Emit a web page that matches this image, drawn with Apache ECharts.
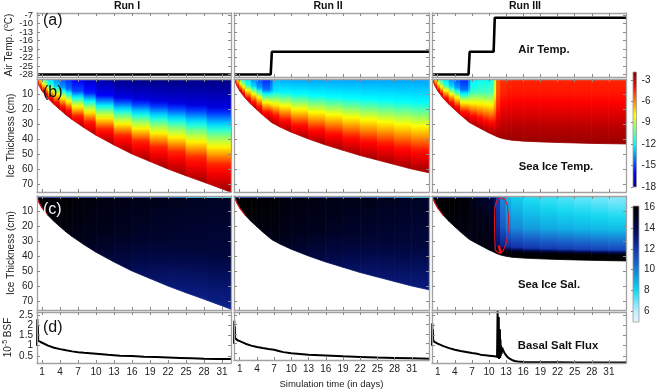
<!DOCTYPE html>
<html><head><meta charset="utf-8">
<script src="https://cdn.jsdelivr.net/npm/echarts@6/dist/echarts.min.js"></script>
<style>html,body{margin:0;padding:0;background:#fff}#c{width:659px;height:390px}</style>
</head><body><div id="c"></div><script>
// ---------------- DATA ----------------
const runTitles = ['Run I', 'Run II', 'Run III'];
const xTicks = [1,4,7,10,13,16,19,22,25,28,31];
const airTicks = [-28,-25,-22,-19,-16,-13,-10,-7];
const iceTicks = [10,20,30,40,50,60,70];
const bsfTicks = [0.5,1,1.5,2,2.5];
const tempBarTicks = [-18,-15,-12,-9,-6,-3];
const salBarTicks = [6,8,10,12,14,16];

// (a) air temperature
const airDays1 = [0.15, 32.5];            const airTemp1 = [-28, -28];
const airDays2 = [0, 6.4, 6.6, 34];       const airTemp2 = [-28, -28, -20, -20];
const airDays3 = [0, 6.4, 6.6, 10.8, 11, 34]; const airTemp3 = [-28, -28, -20, -20, -8, -8];

// ice thickness (cm)
const days1  = [0.15, 0.5, 1, 1.5, 2, 3, 4, 5, 6, 8, 10, 13, 16, 19, 22, 25, 28.5, 32.5];
const thick1 = [1.5, 4.5, 8, 10.5, 13, 17, 20.5, 24, 27, 32.5, 37.5, 44, 50, 55, 60, 64.5, 69.5, 75.5];
const days2  = [0, 0.5, 1, 1.5, 2, 3, 4, 5, 6.4, 6.8, 8, 10, 13, 16, 19, 22, 25, 28, 31, 34];
const thick2 = [0, 4.5, 8, 10.5, 13, 17, 20.5, 24, 28.5, 29.5, 32, 35.5, 40, 44, 47.5, 51, 54, 57, 60, 62.5];
const days3  = [0, 0.5, 1, 1.5, 2, 3, 4, 5, 6.4, 6.8, 8, 9, 10, 10.9, 11.3, 12, 13, 14, 16, 19, 22, 25, 28, 31, 34];
const thick3 = [0, 4.5, 8, 10.5, 13, 17, 20.5, 24, 28.5, 29.5, 32, 34, 36, 37.5, 38.3, 39.3, 40.2, 40.8, 41.4, 41.9, 42.3, 42.6, 42.9, 43.1, 43.3];

// (b) sea-ice temperature (°C) at depth fractions 0, .25, .5, .75, 1 for each day above
const temp1 = [
 [-3,-2.7,-2.5,-2.4,-2.3],[-6,-5,-3.8,-2.8,-2.3],[-9.5,-8,-5.5,-3.2,-2.3],[-11,-9.5,-6.5,-3.5,-2.3],
 [-12,-10.5,-7,-3.7,-2.3],[-13.5,-12,-7.5,-4,-2.3],[-14.5,-13,-8,-4.2,-2.3],[-15.2,-14,-8.5,-4.3,-2.3],
 [-15.8,-14.5,-9,-4.4,-2.3],[-16.7,-15.3,-9.3,-4.5,-2.3],[-17.3,-15.8,-9.5,-4.5,-2.3],[-17.8,-16.3,-9.8,-4.5,-2.3],
 [-18,-16.5,-10,-4.5,-2.3],[-18,-16.5,-10,-4.5,-2.3],[-18,-16.5,-10,-4.5,-2.3],[-18,-16.5,-10,-4.5,-2.3],
 [-18,-16.5,-10,-4.5,-2.3],[-18,-16.5,-10,-4.5,-2.3]];
const temp2 = [
 [-3,-2.7,-2.5,-2.4,-2.3],[-6,-5,-3.8,-2.8,-2.3],[-9.5,-8,-5.5,-3.2,-2.3],[-11,-9.5,-6.5,-3.5,-2.3],
 [-12,-10.5,-7,-3.7,-2.3],[-13.5,-12,-7.5,-4,-2.3],[-14.5,-13,-8,-4.2,-2.3],[-15.2,-14,-8.5,-4.3,-2.3],
 [-15.8,-14.5,-9,-4.4,-2.3],[-13,-12.5,-8.5,-4.3,-2.3],[-13.3,-12.2,-8.2,-4.3,-2.3],[-13.5,-12,-8,-4.3,-2.3],
 [-13.5,-12,-8,-4.3,-2.3],[-13.5,-12,-8,-4.3,-2.3],[-13.5,-12,-8,-4.3,-2.3],[-13.5,-12,-8,-4.3,-2.3],
 [-13.5,-12,-8,-4.3,-2.3],[-13.5,-12,-8,-4.3,-2.3],[-13.5,-12,-8,-4.3,-2.3],[-13.5,-12,-8,-4.3,-2.3]];
const temp3 = [
 [-3,-2.7,-2.5,-2.4,-2.3],[-6,-5,-3.8,-2.8,-2.3],[-9.5,-8,-5.5,-3.2,-2.3],[-11,-9.5,-6.5,-3.5,-2.3],
 [-12,-10.5,-7,-3.7,-2.3],[-13.5,-12,-7.5,-4,-2.3],[-14.5,-13,-8,-4.2,-2.3],[-15.2,-14,-8.5,-4.3,-2.3],
 [-15.8,-14.5,-9,-4.4,-2.3],[-12.5,-11.5,-8,-4.2,-2.3],[-12,-11,-7.8,-4.2,-2.3],[-12,-11,-7.5,-4.2,-2.3],
 [-12,-10.8,-7.5,-4.2,-2.3],[-11.5,-10.5,-7.3,-4.2,-2.3],[-6,-5.8,-5,-3.6,-2.3],[-4.8,-4.5,-3.8,-3,-2.3],
 [-4.6,-4.3,-3.6,-2.9,-2.3],[-4.5,-4.2,-3.5,-2.8,-2.3],[-4.5,-4.2,-3.5,-2.8,-2.3],[-4.5,-4.2,-3.5,-2.8,-2.3],
 [-4.5,-4.2,-3.5,-2.8,-2.3],[-4.5,-4.2,-3.5,-2.8,-2.3],[-4.5,-4.2,-3.5,-2.8,-2.3],[-4.5,-4.2,-3.5,-2.8,-2.3],
 [-4.5,-4.2,-3.5,-2.8,-2.3]];

// (c) sea-ice salinity: [surface skin, top, 0.5, 0.82, 0.9, bottom]
const sal1 = [
 [14,16,16,16,16,16],[13,16,16,16,16,16],[12,16,16,16,16,16],[12,16,16,15.9,15.9,15.8],
 [12,16,15.9,15.8,15.8,15.7],[12,16,15.9,15.8,15.7,15.6],[12,15.9,15.8,15.7,15.6,15.5],[12,15.9,15.7,15.6,15.5,15.4],
 [12,15.8,15.6,15.4,15.3,15.2],[12,15.7,15.4,15.1,15,14.8],[12,15.6,15.2,14.8,14.6,14.4],[12,15.4,15,14.4,14.2,14],
 [11.5,15.3,14.8,14,13.8,13.6],[11.5,15.2,14.6,13.7,13.5,13.2],[11,15.1,14.5,13.5,13.3,13],[10,15,14.4,13.3,13.1,12.8],
 [8,14.9,14.3,13.2,13,12.6],[7,14.8,14.2,13.1,12.9,12.5]];
const sal2 = [
 [14,16,16,16,16,16],[13,16,16,16,16,16],[12,16,16,16,16,16],[12,16,16,15.9,15.9,15.8],
 [12,16,15.9,15.8,15.8,15.7],[12,16,15.9,15.8,15.7,15.6],[12,15.9,15.8,15.7,15.6,15.5],[12,15.9,15.7,15.6,15.5,15.4],
 [12,15.8,15.6,15.4,15.3,15.2],[12,15.8,15.6,15.4,15.3,15.2],[12,15.7,15.5,15.2,15.1,15],[12,15.6,15.3,14.9,14.8,14.6],
 [12,15.5,15.1,14.5,14.3,14.1],[11.5,15.4,14.9,14.2,14,13.8],[11.5,15.3,14.7,13.9,13.7,13.5],[11,15.2,14.6,13.7,13.5,13.3],
 [11,15.1,14.5,13.6,13.4,13.2],[10,15,14.4,13.5,13.3,13.1],[9,14.9,14.3,13.4,13.2,13],[8,14.8,14.2,13.3,13.1,12.9]];
const sal3 = [
 [14,16,16,16,16,16],[13,16,16,16,16,16],[12,16,16,16,16,16],[12,16,16,15.9,15.9,15.8],
 [12,16,15.9,15.8,15.8,15.7],[12,16,15.9,15.8,15.7,15.6],[12,15.9,15.8,15.7,15.6,15.5],[12,15.9,15.7,15.6,15.5,15.4],
 [12,15.8,15.6,15.4,15.3,15.2],[12,15.4,15.5,15.4,15.3,15.2],[12,15,15.3,15.5,15.4,15.3],[12,14.8,15.2,15.5,15.5,15.4],
 [12,14.6,15.1,15.5,15.5,15.5],[12,14.4,14.9,15.4,15.5,15.6],[12,12.8,13.2,13.8,15,15.6],[10,10.5,11.5,13,15.5,16],
 [9,9,10.3,12.5,15.5,16],[8.5,8.5,9.9,12.2,15.6,16],[8,8,9.5,12,15.7,16],[7.6,7.6,9.2,11.8,15.8,16],
 [7.4,7.4,9,11.7,15.8,16],[7.2,7.2,8.9,11.6,15.8,16],[7,7,8.8,11.5,15.8,16],[6.8,6.8,8.7,11.4,15.8,16],
 [6.6,6.6,8.6,11.3,15.8,16]];

// red contour in Run III salinity panel (day, depth cm)
const contourDays  = [11.1, 11.0, 10.95, 11.0, 11.3, 11.7, 12.2, 12.8, 13.2, 13.4, 13.35, 13.1, 12.7, 12.4, 12.1, 11.8, 11.4, 11.1];
const contourDepth = [36, 28, 18, 8, 3.5, 1.5, 1.2, 2.5, 6, 14, 23, 30, 34.5, 37, 38.3, 38, 37.2, 36];
const blobDays = [11.7, 11.9, 12.1];
const blobDepth = [33, 36, 38.5];

// (d) basal salt flux (1e-5)
const bsfDays1 = [0.15,0.2,0.25,0.3,0.35,0.5,0.75,1,2,3,4,5,6,7,8,10,12,14,16,18,20,22,24,26,28,30,32.5];
const bsfVals1 = [1.0,2.3,1.5,2.0,1.25,1.2,1.18,1.12,1.0,0.9,0.83,0.77,0.72,0.68,0.65,0.6,0.55,0.51,0.49,0.46,0.44,0.42,0.4,0.38,0.36,0.35,0.34];
const bsfDays2 = [0,0.05,0.1,0.15,0.2,0.35,0.6,1,2,3,4,5,6,7,7.8,8.1,8.6,10,13,16,19,22,25,28,31,34];
const bsfVals2 = [1.0,2.2,1.4,1.9,1.3,1.22,1.18,1.13,1.0,0.9,0.83,0.77,0.72,0.68,0.62,0.67,0.56,0.5,0.42,0.38,0.34,0.31,0.28,0.26,0.24,0.22];
const bsfDays3 = [0,0.05,0.1,0.15,0.2,0.35,0.6,1,2,3,4,5,6,7,7.9,8.1,8.5,9,10,11,11.4,11.5,11.55,11.6,11.65,11.7,11.75,11.8,11.85,11.9,11.95,12.0,12.05,12.1,12.2,12.3,12.5,12.8,13.2,13.6,14,14.5,15,16,19,22,25,28,31,34];
const bsfVals3 = [1.0,2.1,1.4,1.8,1.3,1.2,1.16,1.1,0.98,0.88,0.8,0.74,0.69,0.64,0.6,0.64,0.56,0.54,0.51,0.48,0.45,2.7,0.4,1.9,0.5,2.4,0.35,1.6,0.5,1.8,0.4,1.3,0.5,1.0,0.6,0.9,0.75,0.6,0.45,0.36,0.3,0.25,0.22,0.2,0.19,0.19,0.18,0.18,0.18,0.18];

// colour scale ranges
const TMIN = -18, TMAX = -1.9, SMIN = 5, SMAX = 16.1;
const salStops = [[5,[232,246,255]],[6,[192,238,255]],[7,[110,230,250]],[8,[20,216,240]],[9,[16,172,228]],[10,[24,126,212]],[11,[24,84,194]],[12,[18,52,170]],[13,[8,26,122]],[14,[1,8,70]],[15,[0,2,30]],[16,[0,0,0]]];

// ---------------- RENDERING ----------------
const FONT = 'Liberation Sans, Arial, Helvetica, sans-serif';
const clamp = (v,a,b)=>Math.max(a,Math.min(b,v));
function jet(v){
  const f = clamp((v-TMIN)/(TMAX-TMIN),0,1);
  const c = x=>Math.round(255*clamp(x,0,1));
  return 'rgb('+c(1.5-Math.abs(4*f-3))+','+c(1.5-Math.abs(4*f-2))+','+c(1.5-Math.abs(4*f-1))+')';
}
function salColor(v){
  v = clamp(v,5,16);
  for (let i=0;i<salStops.length-1;i++){
    const [a,ca]=salStops[i],[b,cb]=salStops[i+1];
    if (v<=b){ const t=(v-a)/(b-a); return 'rgb('+ca.map((x,k)=>Math.round(x+(cb[k]-x)*t)).join(',')+')'; }
  }
  return 'rgb(0,0,0)';
}
const FRAC_T = [0,0.25,0.5,0.75,1];
const FRAC_S = [0,0.5,0.82,0.9,1];

const grids=[], xAxes=[], yAxes=[], series=[];
const AXLINE = {show:true,onZero:false,lineStyle:{color:'#a2a2a2',width:1.3}};
const tick = vals=>({show:true,inside:true,length:3,customValues:vals,lineStyle:{color:'#8a8a8a',width:1}});

const COLS=[{left:37,width:194,min:0.15,max:32.5},{left:234,width:195,min:0,max:34},{left:432,width:194,min:0,max:34}];
const ROWS=[
 {top:13,height:64,min:-28.9,max:-6.3,inv:false,ticks:airTicks,name:'{n|Air Temp. (}{s|o}{n|C)}',gap:22,fs:9.5},
 {top:79,height:113,min:0,max:75.3,inv:true,ticks:iceTicks,name:'{n|Ice Thickness (cm)}',gap:21,fs:10},
 {top:196,height:114,min:0,max:76,inv:true,ticks:iceTicks,name:'{n|Ice Thickness (cm)}',gap:21,fs:10},
 {top:312,height:51,min:0.15,max:2.65,inv:false,ticks:bsfTicks,name:'{n|10}{s|-5}{n| BSF}',gap:23,fs:10}];
const nameRich = {n:{fontSize:10,color:'#222',fontFamily:FONT},s:{fontSize:7,color:'#222',fontFamily:FONT,verticalAlign:'top',lineHeight:12}};
const labelCommon = {showMinLabel:true,showMaxLabel:true,hideOverlap:false,color:'#222',margin:4,fontFamily:FONT};

const idx = [];
ROWS.forEach((R,r)=>{
  idx.push([]);
  COLS.forEach((C,c)=>{
    const gi = grids.length;
    grids.push({left:C.left,top:R.top,width:C.width,height:R.height});
    const xi = xAxes.length, yi = yAxes.length;
    xAxes.push({type:'value',gridIndex:gi,min:C.min,max:C.max,position:'bottom',z:5,axisLine:AXLINE,axisTick:tick(xTicks),
      axisLabel:Object.assign({show:r===3,customValues:xTicks,fontSize:10},labelCommon),splitLine:{show:false},
      name:(r===3&&c===1)?'Simulation time (in days)':'',nameLocation:'middle',nameGap:19,nameTextStyle:{fontSize:9.5,color:'#222',fontFamily:FONT}});
    xAxes.push({type:'value',gridIndex:gi,min:C.min,max:C.max,position:'top',z:5,axisLine:AXLINE,axisTick:tick(xTicks),axisLabel:{show:false},splitLine:{show:false}});
    // air-temperature labels are dense: split them over two left axes so none is dropped
    const mainLabels = (r===0) ? airTicks.filter((v,k)=>k%2===0) : R.ticks;
    yAxes.push({type:'value',gridIndex:gi,min:R.min,max:R.max,inverse:R.inv,position:'left',z:5,axisLine:AXLINE,axisTick:tick(R.ticks),
      axisLabel:Object.assign({show:c===0,customValues:mainLabels,fontSize:R.fs},labelCommon),splitLine:{show:false},
      name:c===0?R.name:'',nameLocation:'middle',nameGap:R.gap,nameTextStyle:{rich:nameRich}});
    yAxes.push({type:'value',gridIndex:gi,min:R.min,max:R.max,inverse:R.inv,position:'right',z:5,axisLine:AXLINE,axisTick:tick(R.ticks),axisLabel:{show:false},splitLine:{show:false}});
    if (r===0 && c===0){
      yAxes.push({type:'value',gridIndex:gi,min:R.min,max:R.max,position:'left',offset:0,z:5,axisLine:{show:false},axisTick:{show:false},
        axisLabel:Object.assign({customValues:airTicks.filter((v,k)=>k%2===1),fontSize:R.fs},labelCommon),splitLine:{show:false}});
    }
    idx[r].push({x:xi,y:yi});
  });
});

const pairs = (a,b)=>a.map((v,i)=>[v,b[i]]);
function lineS(ax,data,color,width,z){
  return {type:'line',xAxisIndex:ax.x,yAxisIndex:ax.y,data,symbol:'none',clip:true,silent:true,z:z||3,
    lineStyle:{color,width},itemStyle:{color},animation:false};
}
function field(ax,days,thick,prof,kind){
  const data = days.slice(0,-1).map((d,i)=>[d,days[i+1],thick[i],thick[i+1],i]);
  return {type:'custom',xAxisIndex:ax.x,yAxisIndex:ax.y,clip:true,silent:true,z:1,data,
    renderItem:(params,api)=>{
      const i = api.value(4);
      const p0=api.coord([api.value(0),0]), p1=api.coord([api.value(1),0]);
      const p2=api.coord([api.value(1),api.value(3)]), p3=api.coord([api.value(0),api.value(2)]);
      const H = Math.max(p2[1],p3[1])-p0[1];
      let vals = prof[i].map((v,k)=>(v+prof[i+1][k])/2);
      const stops=[]; let s0=0, fr, cf;
      if (kind==='s'){
        fr=FRAC_S; cf=salColor;
        const sv=vals[0]; vals=vals.slice(1);
        if (H>6){ s0=2/H; stops.push({offset:0,color:cf(sv)},{offset:s0,color:cf(sv)}); }
      } else { fr=FRAC_T; cf=jet; }
      for (let k=0;k<fr.length-1;k++) for (let m=0;m<5;m++){
        const t=m/5, f=fr[k]+(fr[k+1]-fr[k])*t;
        stops.push({offset:s0+f*(1-s0),color:cf(vals[k]+(vals[k+1]-vals[k])*t)});
      }
      stops.push({offset:1,color:cf(vals[vals.length-1])});
      const g=new echarts.graphic.LinearGradient(0,0,0,1,stops);
      return {type:'polygon',shape:{points:[p0,p1,p2,p3]},style:{fill:g,stroke:g,lineWidth:0.8}};
    }};
}

const D=[days1,days2,days3], TH=[thick1,thick2,thick3], TP=[temp1,temp2,temp3], SP=[sal1,sal2,sal3];
const AD=[airDays1,airDays2,airDays3], AT=[airTemp1,airTemp2,airTemp3];
const BD=[bsfDays1,bsfDays2,bsfDays3], BV=[bsfVals1,bsfVals2,bsfVals3];
for (let c=0;c<3;c++){
  series.push(lineS(idx[0][c],pairs(AD[c],AT[c]),'#000',2.6));
  series.push(field(idx[1][c],D[c],TH[c],TP[c],'t'));
  series.push(field(idx[2][c],D[c],TH[c],SP[c],'s'));
  const edge = pairs(D[c],TH[c]).filter(p=>p[0]<=2);
  series.push(lineS(idx[2][c],edge,'#e0141c',1.1));
  series.push(lineS(idx[3][c],pairs(BD[c],BV[c]),'#000',2));
}
series.push(lineS(idx[2][2],pairs(contourDays,contourDepth),'#e4141c',1.1,4));
series.push(lineS(idx[2][2],pairs(blobDays,blobDepth),'#ee1010',2.6,4));

// colour bars
function colorBar(left,top,width,height,vmin,vmax,ticks,cf){
  const gi=grids.length;
  grids.push({left,top,width,height});
  const xi=xAxes.length, yi=yAxes.length;
  xAxes.push({type:'value',gridIndex:gi,min:0,max:1,show:false});
  yAxes.push({type:'value',gridIndex:gi,min:vmin,max:vmax,position:'right',z:5,
    axisLine:{show:false},axisTick:{show:true,inside:true,length:2,customValues:ticks,lineStyle:{color:'#888'}},
    axisLabel:Object.assign({customValues:ticks,fontSize:10},labelCommon,{margin:5}),splitLine:{show:false}});
  series.push({type:'custom',xAxisIndex:xi,yAxisIndex:yi,silent:true,data:[[0,vmin,vmax]],
    renderItem:(params,api)=>{
      const lo=api.value(1), hi=api.value(2);
      const a=api.coord([0,hi]), b=api.coord([1,lo]);
      const stops=[]; for(let k=0;k<=40;k++) stops.push({offset:k/40,color:cf(hi-(hi-lo)*k/40)});
      return {type:'rect',shape:{x:a[0],y:a[1],width:b[0]-a[0],height:b[1]-a[1]},
        style:{fill:new echarts.graphic.LinearGradient(0,0,0,1,stops),stroke:'#999',lineWidth:0.8}};
    }});
}
colorBar(633,72,7,115,TMIN,TMAX,tempBarTicks,jet);
colorBar(633,206,6,116,SMIN,SMAX,salBarTicks,salColor);

const txt=(x,y,text,size,weight,fill,align)=>({type:'text',x,y,z:10,silent:true,
  style:{text,fill:fill||'#111',font:(weight||'normal')+' '+size+'px '+FONT,align:align||'center',verticalAlign:'middle'}});
const graphic=[
  txt(127,6,runTitles[0],10.5,'bold'), txt(328,6,runTitles[1],10.5,'bold'), txt(525,6,runTitles[2],10.5,'bold'),
  txt(43,21,'(a)',16,'normal','#111','left'), txt(43,93,'(b)',16,'normal','#111','left'),
  txt(43,210,'(c)',16,'normal','#f4f4f4','left'), txt(43,328,'(d)',16,'normal','#111','left'),
  txt(544,50,'Air Temp.',11.3,'bold'), txt(556,167,'Sea Ice Temp.',11.3,'bold'),
  txt(549,285,'Sea Ice Sal.',11.3,'bold'), txt(558,346,'Basal Salt Flux',11.3,'bold')
];

const chart=echarts.init(document.getElementById('c'),null,{renderer:'canvas'});
chart.setOption({animation:false,backgroundColor:'#fff',textStyle:{fontFamily:FONT},
  grid:grids,xAxis:xAxes,yAxis:yAxes,series,graphic});
</script></body></html>
